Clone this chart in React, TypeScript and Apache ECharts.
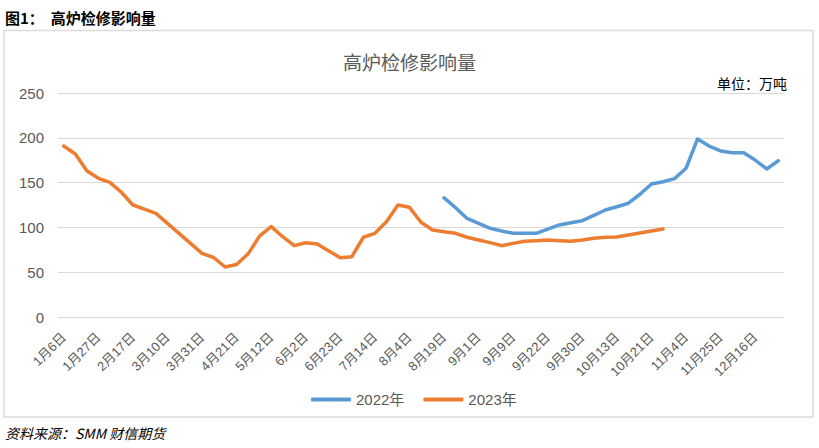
import React, { useEffect, useRef } from "react";
import * as echarts from "echarts";

const categories = [
  "1月6日", "1月13日", "1月20日", "1月27日", "2月3日", "2月10日", "2月17日", "2月24日", "3月3日",
  "3月10日", "3月17日", "3月24日", "3月31日", "4月7日", "4月14日", "4月21日", "4月28日", "5月5日",
  "5月12日", "5月19日", "5月26日", "6月2日", "6月9日", "6月16日", "6月23日", "6月30日", "7月7日",
  "7月14日", "7月21日", "7月28日", "8月4日", "8月11日", "8月15日", "8月19日", "8月25日", "8月29日",
  "9月1日", "9月2日", "9月6日", "9月9日", "9月14日", "9月16日", "9月22日", "9月23日", "9月27日",
  "9月30日", "10月8日", "10月10日", "10月13日", "10月14日", "10月18日", "10月21日", "10月28日", "10月31日",
  "11月4日", "11月11日", "11月18日", "11月25日", "12月2日", "12月9日", "12月16日", "12月23日", "12月30日",
];

// 2022 series begins at 8月19日
const start2022 = "8月19日";
const values2022 = [
  133, 122, 110, 104.5, 99, 96, 93.4, 93.4, 93.4, 98, 102.7, 105.2, 107.5, 113.5, 119.4,
  123, 127, 137, 148.4, 151, 154.4, 166, 198.7, 190.8, 185.3, 183.4, 183.4, 175.2, 165.2, 174.4,
];

const values2023 = [
  190.8, 181.9, 163.3, 154.8, 150.3, 139.2, 125, 120.5, 115.7, 104.5, 93.3, 82.2, 71,
  66.4, 55.8, 58.5, 70.5, 90.5, 100.8, 89.6, 79.6, 82.9, 81.5, 73.7, 66.2, 67.3,
  89, 93.4, 106.4, 125, 122.4, 105.8, 97.1, 95.2, 93.4, 89, 86, 83, 79.6, 82.2,
  84.5, 85.2, 86, 85.2, 84.5, 86, 87.8, 89, 89.3, 91.5, 93.8, 96, 98.2,
];

const yMin = 0;
const yMax = 250;
const yStep = 50;

const seriesNames = ["2022年", "2023年"];
const seriesColors = ["#5B9BD5", "#ED7D31"];

const FONT = "'Liberation Sans', 'Noto Sans CJK SC', sans-serif";
const CJK = "'Noto Sans CJK SC', sans-serif";

export default function App() {
  const ref = useRef<HTMLDivElement>(null);

  useEffect(() => {
    if (!ref.current) return;
    const chart = echarts.init(ref.current, undefined, { renderer: "svg" });
    const s2022 = categories.indexOf(start2022);
    const data2022 = categories.map((_, i) => (i >= s2022 ? values2022[i - s2022] ?? null : null));
    const data2023 = categories.map((_, i) => (i < values2023.length ? values2023[i] : null));

    chart.setOption({
      animation: false,
      backgroundColor: "#ffffff",
      title: {
        text: "高炉检修影响量",
        left: "center",
        top: 47,
        textStyle: { fontFamily: CJK, fontSize: 19, fontWeight: "normal", color: "#595959" },
      },
      graphic: [
        {
          type: "rect",
          shape: { x: 4, y: 30.5, width: 809, height: 386.5 },
          style: { fill: "none", stroke: "#dcdcdc", lineWidth: 1.5 },
          silent: true,
        },
        {
          type: "text",
          x: 5,
          y: 17,
          style: {
            text: "图1：  高炉检修影响量",
            font: `bold 15px ${CJK}`,
            fill: "#000000",
            verticalAlign: "middle",
          },
        },
        {
          type: "text",
          x: 787,
          y: 83,
          style: {
            text: "单位：万吨",
            font: `14px ${CJK}`,
            fill: "#000000",
            align: "right",
            verticalAlign: "middle",
          },
        },
        {
          type: "text",
          x: 5,
          y: 433,
          style: {
            text: "资料来源：SMM 财信期货",
            font: `italic 14px ${CJK}`,
            fill: "#000000",
            verticalAlign: "middle",
          },
        },
      ],
      legend: {
        data: seriesNames,
        left: 306,
        top: 387,
        icon: "roundRect",
        itemWidth: 40,
        itemHeight: 4,
        itemGap: 19,
        textStyle: { fontFamily: FONT, fontSize: 15, color: "#595959" },
      },
      grid: { left: 58, right: 35, top: 93, bottom: 131, containLabel: false },
      xAxis: {
        type: "category",
        data: categories,
        boundaryGap: true,
        axisLine: { show: false },
        axisTick: { show: false },
        axisLabel: {
          interval: 2,
          rotate: 45,
          margin: 18,
          fontFamily: FONT,
          fontSize: 13,
          color: "#595959",
        },
      },
      yAxis: {
        type: "value",
        min: yMin,
        max: yMax,
        interval: yStep,
        axisLine: { show: false },
        axisTick: { show: false },
        splitLine: { lineStyle: { color: "#d9d9d9", width: 1 } },
        axisLabel: { margin: 14, fontFamily: FONT, fontSize: 15, color: "#595959" },
      },
      series: [
        {
          name: seriesNames[0],
          type: "line",
          data: data2022,
          showSymbol: false,
          symbol: "none",
          connectNulls: false,
          lineStyle: { width: 3.5, color: seriesColors[0], cap: "round", join: "round" },
          itemStyle: { color: seriesColors[0] },
        },
        {
          name: seriesNames[1],
          type: "line",
          data: data2023,
          showSymbol: false,
          symbol: "none",
          connectNulls: false,
          lineStyle: { width: 3.5, color: seriesColors[1], cap: "round", join: "round" },
          itemStyle: { color: seriesColors[1] },
        },
      ],
    });

    return () => chart.dispose();
  }, []);

  return (
    <div
      ref={ref}
      style={{ position: "absolute", left: 0, top: 0, width: 819, height: 448, background: "#fff" }}
    />
  );
}
